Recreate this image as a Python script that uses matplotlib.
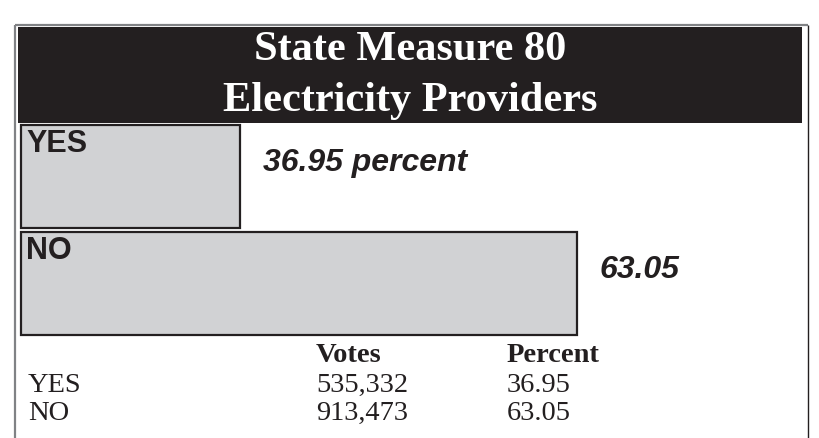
import numpy as np
import matplotlib.pyplot as plt
from matplotlib.patches import Rectangle

# Measure 80 results
choices = ["YES", "NO"]
votes = [535332, 913473]
percents = [36.95, 63.05]
bar_labels = ["36.95 percent", "63.05"]
title_lines = ["State Measure 80", "Electricity Providers"]
table_header = ["Votes", "Percent"]

W, H = 819, 438
dark = "#231f20"
fill = "#d1d2d4"

fig = plt.figure(figsize=(W / 100, H / 100), dpi=100)

# background axes in pixel coordinates for frame, title band and table
bg = fig.add_axes([0, 0, 1, 1])
bg.set_xlim(0, W)
bg.set_ylim(H, 0)
bg.axis("off")

bg.plot([15, 808], [25, 25], color="#808285", lw=1.6, solid_capstyle="butt")
bg.plot([15, 15], [25, H], color="#808285", lw=1.6, solid_capstyle="butt")
bg.plot([808, 808], [25, H], color=dark, lw=1.0, solid_capstyle="butt")
bg.add_patch(Rectangle((18, 27), 784, 96, color=dark, lw=0))

bg.text(410, 60, title_lines[0], color="white", ha="center", va="baseline",
        fontsize=30.5, fontweight="bold", family="Liberation Serif")
bg.text(410, 111, title_lines[1], color="white", ha="center", va="baseline",
        fontsize=30.5, fontweight="bold", family="Liberation Serif")

# table under the bars
col_x = [28, 316, 507]
row_y = [362, 392, 420]
for j, head in enumerate(table_header):
    bg.text(col_x[j + 1], row_y[0], head, color=dark, va="baseline",
            fontsize=20.5, fontweight="bold", family="Liberation Serif")
for i, name in enumerate(choices):
    y = row_y[i + 1]
    bg.text(col_x[0], y, name, color=dark, va="baseline", fontsize=20.5,
            family="Liberation Serif")
    bg.text(col_x[1], y, f"{votes[i]:,}", color=dark, va="baseline",
            fontsize=20.5, family="Liberation Serif")
    bg.text(col_x[2], y, f"{percents[i]:.2f}", color=dark, va="baseline",
            fontsize=20.5, family="Liberation Serif")

# bar axes: bars start at 20 percent
base = 20
ax = fig.add_axes([21 / W, 1 - 337 / H, (577 - 21) / W, (337 - 123) / H])
ax.set_xlim(base, max(percents))
ax.set_ylim(1.5, -0.5)
ax.axis("off")

ypos = np.arange(len(choices))
h = 0.97
ax.barh(ypos, np.array(percents) - base, left=base, height=h, color=fill,
        edgecolor=dark, linewidth=1.6, clip_on=False)

for i, name in enumerate(choices):
    ax.annotate(name, xy=(base, ypos[i] - h / 2), xytext=(5, -4),
                textcoords="offset pixels", ha="left", va="top",
                fontsize=22, fontweight="bold", family="Liberation Sans",
                color=dark, annotation_clip=False)
    ax.annotate(bar_labels[i], xy=(percents[i], ypos[i]), xytext=(23, 14),
                textcoords="offset pixels", ha="left", va="center",
                fontsize=23, fontweight="bold", style="italic",
                family="Liberation Sans", color=dark, annotation_clip=False)

fig.savefig("out.png", dpi=100)
